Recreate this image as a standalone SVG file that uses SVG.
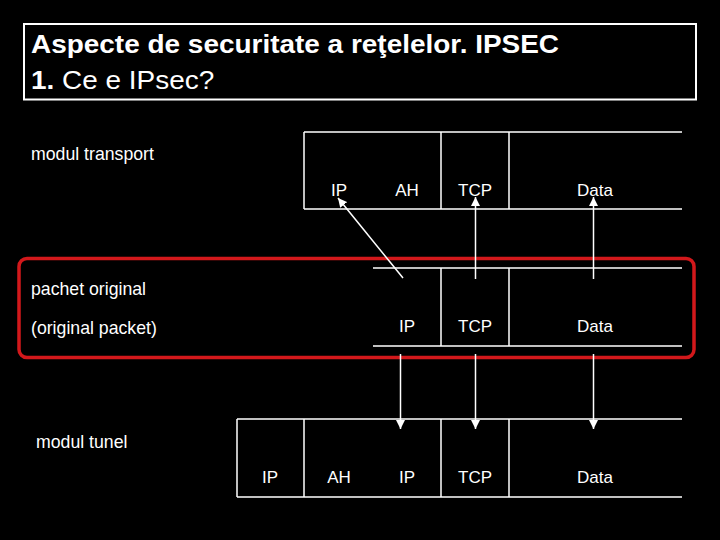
<svg xmlns="http://www.w3.org/2000/svg" width="720" height="540" viewBox="0 0 720 540">
  <style>
    .ln { stroke: #ffffff; stroke-width: 1.5; fill: none; }
    .lbl { font-family: "Liberation Sans", Arial, sans-serif; font-size: 17.7px; fill: #ffffff; }
    .cell { font-family: "Liberation Sans", Arial, sans-serif; font-size: 17px; fill: #ffffff; text-anchor: middle; }
    .conn { stroke: #ffffff; stroke-width: 1.5; fill: none; marker-end: url(#ah); }
  </style>
  <defs>
    <marker id="ah" markerUnits="userSpaceOnUse" markerWidth="9" markerHeight="9" viewBox="0 0 10 10" refX="10" refY="5" orient="auto">
      <path d="M0,0 L10,5 L0,10 z" fill="#ffffff"/>
    </marker>
  </defs>
  <rect width="720" height="540" fill="#000000"/>

  <g id="title">
    <rect x="24" y="24" width="672" height="75.5" fill="none" stroke="#ffffff" stroke-width="2"/>
    <g transform="translate(31,0) scale(1.075,1)" font-family="Liberation Sans, Arial, sans-serif" font-size="26" fill="#ffffff">
      <text x="0" y="53" font-weight="bold">Aspecte de securitate a reţelelor. IPSEC</text>
      <text x="0" y="89"><tspan font-weight="bold">1.</tspan> Ce e IPsec?</text>
    </g>
  </g>

  <g id="highlight">
    <rect x="19" y="258.5" width="675" height="99" rx="8" ry="8" fill="none" stroke="#d2181b" stroke-width="3.5"/>
  </g>

  <g id="transport">
    <text class="lbl" x="31" y="160">modul transport</text>
    <path class="ln" d="M304,132 H682 M304,209 H682 M304,132 V209 M441,132 V209 M509,132 V209"/>
    <text class="cell" x="339" y="196">IP</text>
    <text class="cell" x="407" y="196">AH</text>
    <text class="cell" x="475" y="196">TCP</text>
    <text class="cell" x="595" y="196">Data</text>
  </g>

  <g id="original">
    <text class="lbl" x="31" y="295">pachet original</text>
    <text class="lbl" x="31" y="334">(original packet)</text>
    <path class="ln" d="M373,268 H682 M373,346 H682 M441,268 V346 M509,268 V346"/>
    <text class="cell" x="407" y="332">IP</text>
    <text class="cell" x="475" y="332">TCP</text>
    <text class="cell" x="595" y="332">Data</text>
  </g>

  <g id="tunnel">
    <text class="lbl" x="36" y="448">modul tunel</text>
    <path class="ln" d="M237,419 H682 M237,497 H682 M237,419 V497 M304,419 V497 M441,419 V497 M509,419 V497"/>
    <text class="cell" x="270" y="483">IP</text>
    <text class="cell" x="339" y="483">AH</text>
    <text class="cell" x="407" y="483">IP</text>
    <text class="cell" x="475" y="483">TCP</text>
    <text class="cell" x="595" y="483">Data</text>
  </g>

  <g id="connectors">
    <line class="conn" x1="403" y1="278" x2="338" y2="198"/>
    <line class="conn" x1="475.5" y1="279" x2="475.5" y2="197"/>
    <line class="conn" x1="593.5" y1="279" x2="593.5" y2="197"/>
    <line class="conn" x1="400.5" y1="354" x2="400.5" y2="429"/>
    <line class="conn" x1="475.5" y1="354" x2="475.5" y2="429"/>
    <line class="conn" x1="593.5" y1="354" x2="593.5" y2="429"/>
  </g>
</svg>
